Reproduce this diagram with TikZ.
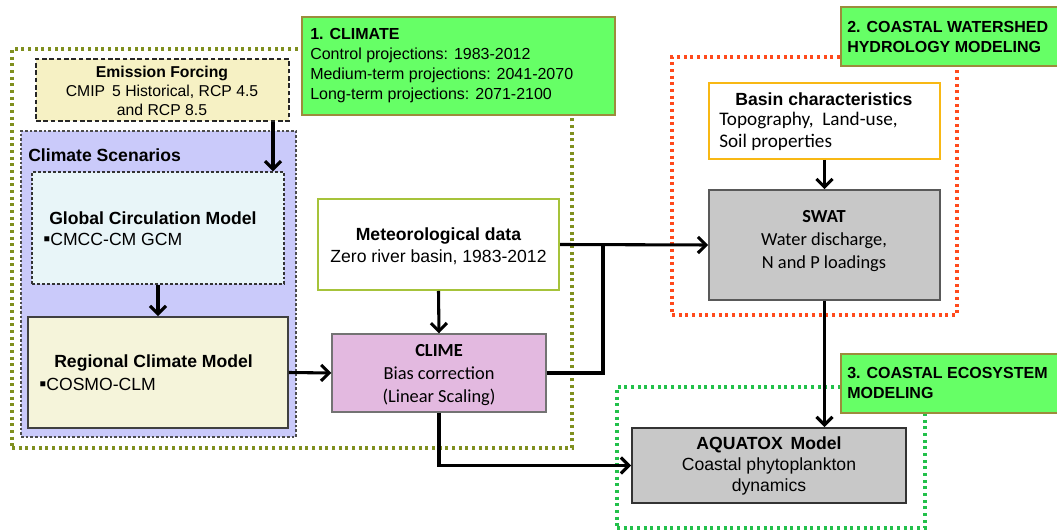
\documentclass[tikz,border=0pt]{standalone}
\usepackage{fontspec}
\setmainfont{Liberation Sans}
\newfontfamily\calib{Carlito}
\usetikzlibrary{fit,arrows.meta,calc}
\definecolor{gbox}{HTML}{66FF66}
\definecolor{gboxline}{HTML}{9C8C3C}
\definecolor{olivedot}{HTML}{7F8F1F}
\definecolor{reddot}{HTML}{FF4A1C}
\definecolor{greendot}{HTML}{22C04A}
\definecolor{emisfill}{HTML}{F6F1C4}
\definecolor{lavender}{HTML}{CACAFA}
\definecolor{gcmfill}{HTML}{E8F5F8}
\definecolor{rcmfill}{HTML}{F5F4DA}
\definecolor{metline}{HTML}{A6C33A}
\definecolor{climefill}{HTML}{E3B9E0}
\definecolor{basinline}{HTML}{F8B814}
\definecolor{grayfill}{HTML}{C8C8C8}
\begin{document}
\begin{tikzpicture}[x=0.75pt,y=-0.75pt,
  frame/.style={inner sep=0pt},
  dotframe/.style={frame, line width=2.6pt, dash pattern=on 2.2pt off 2.8pt},
  greenbox/.style={frame, fill=gbox, draw=gboxline, line width=1pt},
  dashbox/.style={frame, draw=black!85, line width=1.5pt, dash pattern=on 3.5pt off 2pt},
  txt/.style={inner sep=0pt, font=\fontsize{13.2}{16}\selectfont},
  btxt/.style={txt, font=\fontsize{13.2}{16}\selectfont\bfseries},
  conn/.style={line width=2.3pt},
  arr/.style={conn, -{Straight Barb[length=6pt,width=12pt]}}
]
\useasboundingbox (0,0) rectangle (1057,530);

% ---- frames
\node[dotframe, draw=olivedot, fit={(12,49) (572,448)}] (climframe) {};
\node[dotframe, draw=reddot, fit={(672,57) (957,315)}] (hydroframe) {};
\node[dotframe, draw=greendot, fit={(617,387) (925,528)}] (ecoframe) {};

% ---- section labels
\node[greenbox, fit={(302,17) (615,115)}] (g1) {};
\node[txt, anchor=west, align=left, font=\fontsize{12}{15}\selectfont] (g1t) at (310,66)
  {\textbf{1. CLIMATE}\\Control projections: 1983-2012\\Medium-term projections: 2041-2070\\Long-term projections: 2071-2100};
\node[greenbox, fit={(841,7) (1060,66)}] (g2) {};
\node[txt, anchor=west, align=left, font=\fontsize{12}{15}\selectfont\bfseries] (g2t) at (847,37)
  {2. COASTAL WATERSHED\\HYDROLOGY MODELING};
\node[greenbox, fit={(841,354) (1060,413)}] (g3) {};
\node[txt, anchor=west, align=left, font=\fontsize{12}{15}\selectfont\bfseries] (g3t) at (847,383)
  {3. COASTAL ECOSYSTEM\\MODELING};

% ---- climate part
\node[dashbox, fill=emisfill, fit={(36,59) (289,121)}] (emis) {};
\node[txt, align=center, font=\fontsize{11.8}{14.3}\selectfont] (emist) at (162,91)
  {\textbf{Emission Forcing}\\CMIP\, 5 Historical, RCP 4.5\\and RCP 8.5};

\node[frame, fill=lavender, draw=black!70, line width=1pt, dash pattern=on 2pt off 1.5pt, fit={(21,131) (296,437)}] (scen) {};
\node[btxt] (scent) at (28,155) [anchor=west] {Climate Scenarios};

\node[frame, fill=gcmfill, draw=black!80, line width=1.1pt, dash pattern=on 2.2pt off 1.5pt, fit={(32,172) (284,284)}] (gcm) {};
\node[btxt, anchor=west] (gcmt) at (49,218) {Global Circulation Model};
\node[txt, anchor=west] (gcmb) at (43,239) {\fontsize{15}{16}\selectfont▪\fontsize{13.2}{16}\selectfont CMCC-CM GCM};

\node[frame, draw=black!75, line width=1.4pt, fill=rcmfill, fit={(28,317) (288,428)}] (rcm) {};
\node[btxt, anchor=west] (rcmt) at (54,363) {Regional Climate Model};
\node[txt, anchor=west] (rcmb) at (39,384) {\fontsize{15}{16}\selectfont▪\fontsize{13.2}{16}\selectfont COSMO-CLM};

\node[frame, fill=white, draw=metline, line width=1.5pt, fit={(318,199) (559,290)}] (met) {};
\node[txt, align=center, font=\fontsize{13.2}{16.5}\selectfont] (mett) at (438.5,246)
  {\textbf{Meteorological data}\\Zero river basin, 1983-2012};

\node[frame, fill=climefill, draw=black!55, line width=1.1pt, fit={(332,334) (546,412)}] (clime) {};
\node[txt, align=center, font=\fontsize{13.8}{17}\selectfont\calib] (climet) at (439,375)
  {\textbf{CLIME}\\Bias correction\\(Linear Scaling)};

% ---- hydrology part
\node[frame, fill=white, draw=basinline, line width=1.5pt, fit={(709,83) (940,159)}] (basin) {};
\node[btxt] (basint) at (824,99) {Basin characteristics};
\node[txt, anchor=west, align=left, font=\fontsize{14.4}{16}\selectfont\calib] (basinb) at (719,131.5)
  {Topography,\ \ Land-use,\\Soil properties};

\node[frame, fill=grayfill, draw=black!65, line width=1.3pt, fit={(709,190) (940,300)}] (swat) {};
\node[txt, align=center, font=\fontsize{13.8}{17}\selectfont\calib] (swatt) at (824,241)
  {\textbf{SWAT}\\Water discharge,\\N and P loadings};

% ---- ecosystem part
\node[frame, fill=grayfill, draw=black!80, line width=1.4pt, fit={(632,428) (906,503)}] (aqua) {};
\node[txt, align=center, font=\fontsize{13.2}{16}\selectfont] (aquat) at (769,466)
  {\textbf{AQUATOX\, Model}\\Coastal phytoplankton\\dynamics};

% ---- connectors
\coordinate (ea) at ($(emis.south east)+(-17,0)$);
\draw[arr] (ea) -- (ea |- gcm.north);
\draw[arr] (gcm.south) -- (rcm.north);
\draw[arr] (rcm.east) -- (clime.west);
\draw[arr] (met.south) -- (clime.north);
\coordinate (j) at (603,245);
\draw[arr] (met.east) -- (swat.west);
\draw[conn] (clime.east) -| (j);
\draw[arr] (clime.south) |- (aqua.west);
\draw[arr] (basin.south) -- (swat.north);
\draw[arr] (swat.south) -- (swat.south |- aqua.north);
\end{tikzpicture}
\end{document}
